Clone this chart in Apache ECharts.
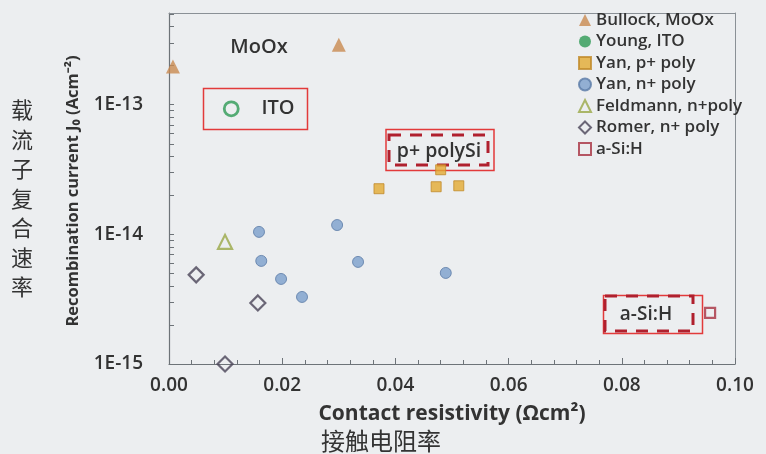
<!DOCTYPE html>
<html><head><meta charset="utf-8">
<script src="https://cdn.jsdelivr.net/npm/echarts@6/dist/echarts.min.js"></script>
<style>html,body{margin:0;padding:0;background:#eceef0;}#c{width:766px;height:454px;}</style>
</head><body><div id="c"></div>
<script>
// ---- data ----
const bullockX = [0.0007, 0.030];
const bullockY = [1.97e-13, 2.9e-13];
const youngX = [0.011];
const youngY = [9.3e-14];
const yanPX = [0.0371, 0.0472, 0.0512, 0.048];
const yanPY = [2.25e-14, 2.33e-14, 2.37e-14, 3.15e-14];
const yanNX = [0.0159, 0.0163, 0.0198, 0.0235, 0.0297, 0.0334, 0.0489];
const yanNY = [1.045e-14, 6.24e-15, 4.53e-15, 3.29e-15, 1.18e-14, 6.13e-15, 5.04e-15];
const feldX = [0.0099];
const feldY = [8.75e-15];
const romerX = [0.0048, 0.0157, 0.0099];
const romerY = [4.87e-15, 2.96e-15, 1.0e-15];
const asiX = [0.0956];
const asiY = [2.48e-15];
const seriesNames = ['Bullock, MoOx','Young, ITO','Yan, p+ poly','Yan, n+ poly','Feldmann, n+poly','Romer, n+ poly','a-Si:H'];
const xTickLabels = [0, 0.02, 0.04, 0.06, 0.08, 0.10];
const yTickLabels = [1e-15, 1e-14, 1e-13];

const zip = (xs, ys) => xs.map((x, i) => [x, ys[i]]);
const yMinor = [];
for (let e = -15; e <= -13; e++) for (let m = 1; m <= 9; m++) { const v = m * Math.pow(10, e); if (v <= 5.1e-13) yMinor.push(v); }

const FONT = '"Open Sans", sans-serif';
const AX = '#6d7378';
const chart = echarts.init(document.getElementById('c'));
const hollow = c => ({ color: 'rgba(255,255,255,0)', borderColor: c, borderWidth: 2.2 });
const frameAxis = { show: true, axisLine: { show: true, onZero: false, lineStyle: { color: '#8a9096', width: 1 } }, axisTick: { show: false }, axisLabel: { show: false }, splitLine: { show: false } };
chart.setOption({
  backgroundColor: '#eceef0',
  animation: false,
  grid: { left: 169, right: 31, top: 13, bottom: 90, show: false },
  legend: {
    orient: 'vertical', left: 573, top: 6, itemWidth: 12, itemHeight: 12, itemGap: 3.5,
    textStyle: { fontFamily: FONT, fontSize: 17, lineHeight: 18, fontWeight: 600, color: '#333' },
    data: seriesNames.map((n, i) => i === 1 ? { name: n, itemStyle: { color: '#2e9a55', borderWidth: 0 } } : n)
  },
  xAxis: [{
    type: 'value', min: 0, max: 0.1, interval: 0.02,
    axisLine: { show: true, onZero: false, lineStyle: { color: AX, width: 1.2 } },
    axisTick: { show: true, inside: true, length: 6, lineStyle: { color: AX, width: 1 } },
    minorTick: { show: true, splitNumber: 5, length: 4, lineStyle: { color: AX, width: 1 } },
    axisLabel: { formatter: v => v.toFixed(2), fontFamily: FONT, fontSize: 19, fontWeight: 600, color: '#333', margin: 12 },
    splitLine: { show: false },
    name: 'Contact resistivity (Ωcm²)', nameLocation: 'middle', nameGap: 40,
    nameTextStyle: { fontFamily: FONT, fontSize: 21, fontWeight: 700, color: '#333' }
  }, Object.assign({ type: 'value', position: 'top', min: 0, max: 0.1 }, frameAxis)],
  yAxis: [{
    type: 'log', logBase: 10, min: 1e-15, max: 5.1e-13,
    axisLine: { show: true, onZero: false, lineStyle: { color: AX, width: 1.2 } },
    axisTick: { show: true, inside: true, length: 5, customValues: yMinor, lineStyle: { color: AX, width: 1 } },
    axisLabel: { customValues: yTickLabels, formatter: v => '1E' + Math.round(Math.log10(v)), fontFamily: FONT, fontSize: 19, fontWeight: 600, color: '#333', margin: 26 },
    splitLine: { show: false }
  }, Object.assign({ type: 'value', position: 'right', min: 0, max: 1 }, frameAxis)],
  series: [
    { name: seriesNames[0], type: 'scatter', symbol: 'triangle', symbolSize: 14, itemStyle: { color: '#c98a50' }, data: zip(bullockX, bullockY) },
    { name: seriesNames[1], type: 'scatter', symbol: 'circle', symbolSize: 14, itemStyle: { color: 'rgba(255,255,255,0)', borderColor: '#2e9a55', borderWidth: 2.8 }, data: zip(youngX, youngY) },
    { name: seriesNames[2], type: 'scatter', symbol: 'rect', symbolSize: 10, itemStyle: { color: '#e3aa32', borderColor: '#c08a2a', borderWidth: 1 }, data: zip(yanPX, yanPY) },
    { name: seriesNames[3], type: 'scatter', symbol: 'circle', symbolSize: 11, itemStyle: { color: '#7c9fcc', borderColor: '#5a7aa6', borderWidth: 1 }, data: zip(yanNX, yanNY) },
    { name: seriesNames[4], type: 'scatter', symbol: 'triangle', symbolSize: 14, itemStyle: hollow('#9aa846'), data: zip(feldX, feldY) },
    { name: seriesNames[5], type: 'scatter', symbol: 'diamond', symbolSize: 15, itemStyle: hollow('#4a4458'), data: zip(romerX, romerY) },
    { name: seriesNames[6], type: 'scatter', symbol: 'rect', symbolSize: 10, itemStyle: hollow('#a83040'), data: zip(asiX, asiY) }
  ],
  graphic: [
    { type: 'text', x: 73, y: 191, rotation: Math.PI / 2, style: { text: 'Recombination current J₀ (Acm⁻²)', align: 'center', verticalAlign: 'middle', fontFamily: FONT, fontSize: 16.5, fontWeight: 700, fill: '#333' } },
    { type: 'text', x: 22, y: 95, style: { text: '载\n流\n子\n复\n合\n速\n率', align: 'center', fontFamily: '"Noto Sans CJK SC"', fontSize: 22, lineHeight: 29.5, fill: '#333' } },
    { type: 'text', x: 381, y: 441, style: { text: '接触电阻率', align: 'center', verticalAlign: 'middle', fontFamily: '"Noto Sans CJK SC"', fontSize: 24, fill: '#333' } },
    { type: 'text', x: 259, y: 47, style: { text: 'MoOx', align: 'center', verticalAlign: 'middle', fontFamily: FONT, fontSize: 20, fontWeight: 600, fill: '#333' } },
    { type: 'rect', shape: { x: 203.5, y: 88.5, width: 104, height: 41 }, style: { fill: 'none', stroke: '#e23a3a', lineWidth: 1.5 } },
    { type: 'text', x: 278, y: 108, style: { text: 'ITO', align: 'center', verticalAlign: 'middle', fontFamily: FONT, fontSize: 20, fontWeight: 600, fill: '#333' } },
    { type: 'rect', shape: { x: 386, y: 129.5, width: 108, height: 41 }, style: { fill: 'none', stroke: '#e23a3a', lineWidth: 1.5 } },
    { type: 'rect', shape: { x: 389, y: 135, width: 99, height: 30 }, style: { fill: 'none', stroke: '#b0202e', lineWidth: 3, lineDash: [12, 9] } },
    { type: 'text', x: 439, y: 151, style: { text: 'p+ polySi', align: 'center', verticalAlign: 'middle', fontFamily: FONT, fontSize: 19.5, fontWeight: 600, fill: '#333' } },
    { type: 'rect', shape: { x: 603.5, y: 295.5, width: 99, height: 38 }, style: { fill: 'none', stroke: '#e23a3a', lineWidth: 1.5 } },
    { type: 'rect', shape: { x: 605, y: 296, width: 88, height: 35 }, style: { fill: 'none', stroke: '#b0202e', lineWidth: 3, lineDash: [12, 9] } },
    { type: 'text', x: 646, y: 315, style: { text: 'a-Si:H', align: 'center', verticalAlign: 'middle', fontFamily: FONT, fontSize: 19, fontWeight: 600, fill: '#333' } }
  ]
});
</script></body></html>
